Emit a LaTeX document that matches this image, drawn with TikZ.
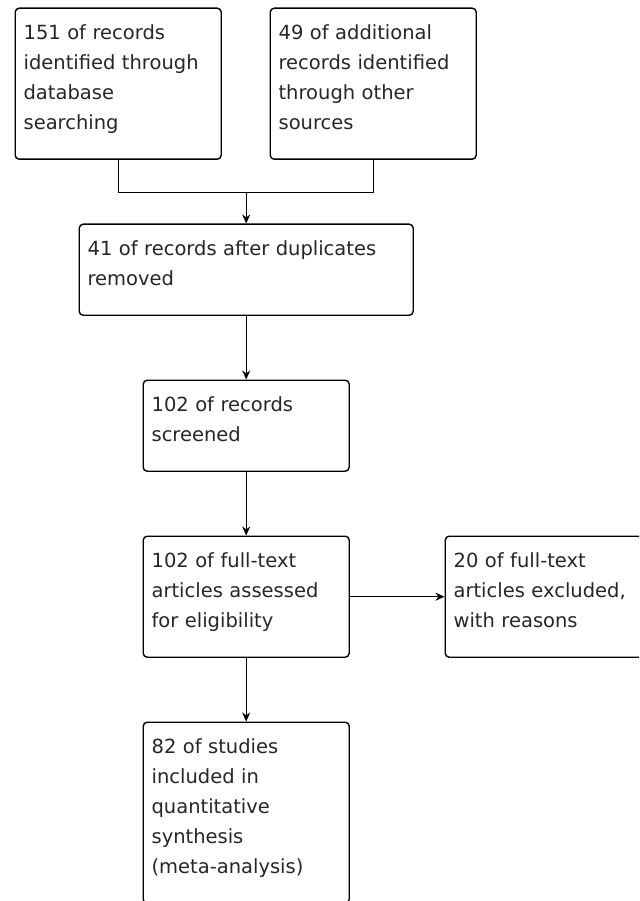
\documentclass[tikz,border=0pt]{standalone}
\usepackage{fontspec}
\setmainfont{DejaVu Sans}
\usetikzlibrary{arrows.meta}
\begin{document}
\begin{tikzpicture}
[x=1pt,y=-1pt,>={Stealth[length=9pt,width=8pt]},line width=1.4pt,
stage/.style = {draw, rounded corners=4pt, anchor=north west, align=left, inner xsep=8.4pt, inner ysep=10pt, text width=189.2pt, text height=21pt, text=black!85, font=\fontsize{19.5}{30}\selectfont},
flow/.style = {->, line width=1.4pt},]

\useasboundingbox (0,0) rectangle (639,901);
\clip (0,0) rectangle (639,901);

\node (db) at (14.5,7.5)[stage,text depth=110pt] {151 of records\\identified through\\database\\searching};
\node (other) at (269.5,7.5)[stage,text depth=110pt] {49 of additional\\records identified\\through other\\sources};
\node (dup) at (78.5,223.5)[stage,text width=317.2pt,text depth=50pt] {41 of records after duplicates\\removed};
\node (screen) at (142.5,379.5)[stage,text depth=50pt] {102 of records\\screened};
\node (full) at (142.5,535.5)[stage,text depth=80pt] {102 of full-text\\articles assessed\\for eligibility};
\node (excl) at (444.5,535.5)[stage,text depth=80pt] {20 of full-text\\articles excluded,\\with reasons};
\node (incl) at (142.5,721.5)[stage,text depth=140pt] {82 of studies\\included in\\quantitative\\synthesis\\(meta-analysis)};

\coordinate (join) at (dup.north |- 0,192.5);
\draw [line width=1.4pt] (db.south) |- (join) -| (other.south);
\draw [flow] (join)--(dup.north);
\draw [flow] (dup.south)--(screen.north);
\draw [flow] (screen.south)--(full.north);
\draw [flow] (full.south)--(incl.north);
\draw [flow] (full.east)--(excl.west);

\end{tikzpicture}
\end{document}
